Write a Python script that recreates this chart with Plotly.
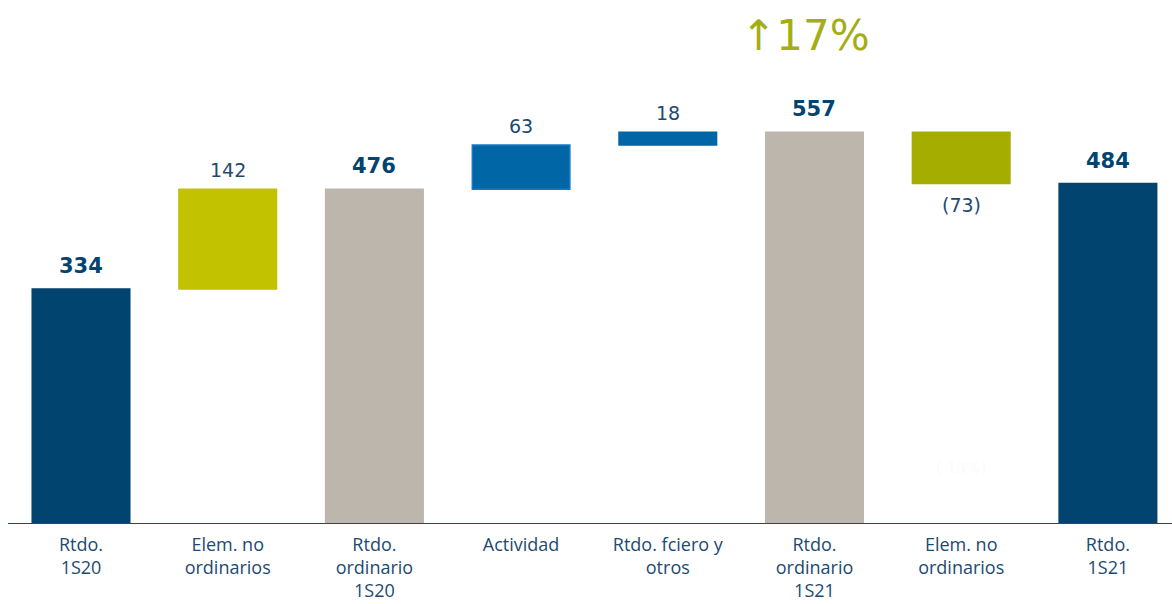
import plotly.graph_objects as go

categories = ["Rtdo.<br>1S20", "Elem. no<br>ordinarios", "Rtdo.<br>ordinario<br>1S20", "Actividad",
              "Rtdo. fciero y<br>otros", "Rtdo.<br>ordinario<br>1S21", "Elem. no<br>ordinarios", "Rtdo.<br>1S21"]
values = [334, 142, 476, 63, 18, 557, -73, 484]
kinds = ["total", "delta", "total", "delta", "delta", "total", "delta", "total"]
labels = ["334", "142", "476", "63", "18", "557", "(73)", "484"]
colors = ["#00446f", "#c2c200", "#bdb6ad", "#0066a6", "#0066a6", "#bdb6ad", "#a5ad00", "#00446f"]
line_colors = ["#00446f", "#c2c200", "#bdb6ad", "#1a78c2", "#0066a6", "#bdb6ad", "#a5ad00", "#00446f"]

x = list(range(len(categories)))
bases, heights = [], []
running = 0
for v, k in zip(values, kinds):
    if k == "total":
        bases.append(0)
        heights.append(v)
        running = v
    else:
        if v >= 0:
            bases.append(running)
            heights.append(v)
        else:
            bases.append(running + v)
            heights.append(-v)
        running += v

fig = go.Figure()
fig.add_trace(go.Bar(x=x, y=heights, base=bases, width=0.665,
                     marker=dict(color=colors, line=dict(color=line_colors, width=1.5)),
                     hoverinfo="skip"))

annotations = []
for i, (v, k, lab) in enumerate(zip(values, kinds, labels)):
    top = bases[i] + heights[i]
    if v < 0:
        annotations.append(dict(x=i, y=bases[i], text=lab, showarrow=False, yanchor="top", yshift=-8,
                                font=dict(family="DejaVu Sans", size=19, color="#1d4a70")))
    elif k == "total":
        annotations.append(dict(x=i, y=top, text="<b>" + lab + "</b>", showarrow=False, yanchor="bottom", yshift=9,
                                font=dict(family="DejaVu Sans", size=21, color="#00446f")))
    else:
        annotations.append(dict(x=i, y=top, text=lab, showarrow=False, yanchor="bottom", yshift=6,
                                font=dict(family="DejaVu Sans", size=19, color="#1d4a70")))

annotations.append(dict(x=5 - 0.06, y=695, text="↑17%", showarrow=False, yanchor="middle",
                        font=dict(family="DejaVu Sans", size=42, color="#a3ae14")))
annotations.append(dict(x=6, y=80, text="(-13%)", showarrow=False,
                        font=dict(family="DejaVu Serif", size=15, color="#fbfbfb")))

fig.update_layout(
    width=1172, height=604,
    margin=dict(l=8, r=0, t=0, b=80, autoexpand=False),
    paper_bgcolor="white", plot_bgcolor="white",
    showlegend=False,
    annotations=annotations,
    xaxis=dict(range=[-0.4976, 7.437], tickmode="array", tickvals=x, ticktext=categories,
               showgrid=False, zeroline=False, showline=False, ticks="outside", ticklen=4,
               tickcolor="rgba(0,0,0,0)", automargin=False,
               tickfont=dict(family="Open Sans", size=18, color="#1d4a70"), fixedrange=True),
    yaxis=dict(range=[0, 745], visible=False, showgrid=False, zeroline=False, fixedrange=True,
               automargin=False),
    shapes=[dict(type="line", xref="paper", yref="y", x0=0, x1=1, y0=0, y1=0,
                 line=dict(color="#1d4a70", width=2))],
)

fig.write_html("out.html", config={"displayModeBar": False},
               post_script="document.body.style.margin='0';document.body.style.overflow='hidden';")
